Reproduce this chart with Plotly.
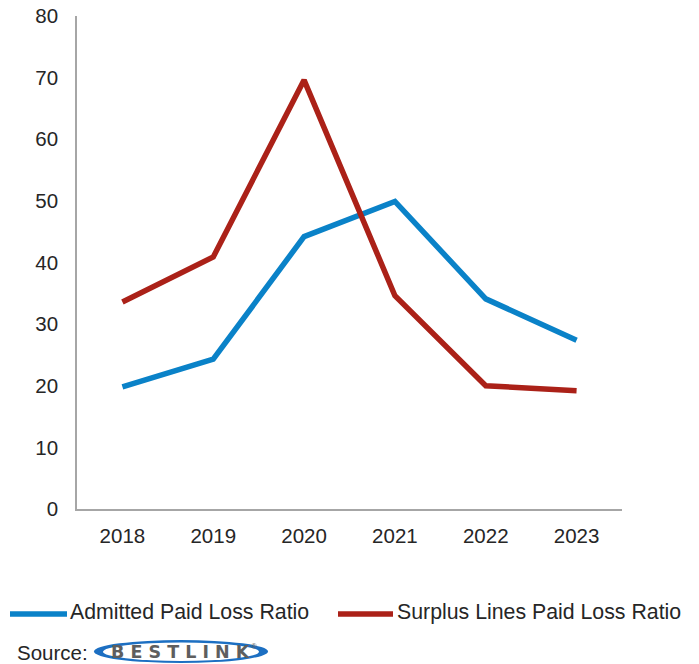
import plotly.graph_objects as go

years = ["2018", "2019", "2020", "2021", "2022", "2023"]
admitted = [19.8, 24.3, 44.2, 49.9, 34.1, 27.4]
surplus = [33.6, 40.9, 69.6, 34.6, 20.0, 19.2]
series_names = ["Admitted Paid Loss Ratio", "Surplus Lines Paid Loss Ratio"]
colors = ["#0a82c8", "#ab2118"]

FONT = "Liberation Sans, Arial, sans-serif"
TEXT_COLOR = "#262626"
AXIS_COLOR = "#a6a6a6"

# plot area in pixels (for placing paper-space decorations)
L, R, T, B = 77, 622, 16, 509
W, H = R - L, B - T


def px(x):
    return (x - L) / W


def py(y):
    return (B - y) / H


fig = go.Figure()
for name, vals, col in zip(series_names, [admitted, surplus], colors):
    fig.add_trace(go.Scatter(
        x=years, y=vals, name=name, mode="lines",
        line=dict(color=col, width=5.5),
        showlegend=False,
    ))

fig.update_layout(
    width=699, height=664,
    margin=dict(l=L, r=699 - R, t=T, b=664 - B),
    paper_bgcolor="white", plot_bgcolor="white",
    font=dict(family=FONT, size=20, color=TEXT_COLOR),
    xaxis=dict(
        type="category", range=[-0.5, 5.5], automargin=False,
        showgrid=False, zeroline=False,
        showline=True, linecolor=AXIS_COLOR, linewidth=1.5,
        ticks="outside", ticklen=8, tickcolor="rgba(0,0,0,0)",
        tickfont=dict(size=20.5, color=TEXT_COLOR),
    ),
    yaxis=dict(
        range=[0, 80], dtick=10, automargin=False,
        showgrid=False, zeroline=False,
        showline=True, linecolor=AXIS_COLOR, linewidth=1.5,
        ticks="outside", ticklen=13, tickcolor="rgba(0,0,0,0)",
        tickfont=dict(size=20.5, color=TEXT_COLOR),
    ),
)

# Legend: line swatches and labels below the plot
legend_items = [(10, 67, 68), (338, 393, 395)]
for (x0, x1, tx), name, col in zip(legend_items, series_names, colors):
    fig.add_shape(type="line", xref="paper", yref="paper",
                  x0=px(x0), x1=px(x1), y0=py(614), y1=py(614),
                  line=dict(color=col, width=5.5))
    fig.add_annotation(xref="paper", yref="paper",
                       x=px(tx), y=py(612),
                       text=name, showarrow=False, xanchor="left", yanchor="middle",
                       font=dict(size=21.3, color=TEXT_COLOR, family=FONT))

# Source line with the BESTLINK badge
fig.add_annotation(xref="paper", yref="paper",
                   x=px(15), y=py(652),
                   text="Source:", showarrow=False, xanchor="left", yanchor="middle",
                   font=dict(size=20.5, color=TEXT_COLOR, family=FONT))
fig.add_shape(type="circle", xref="paper", yref="paper",
              x0=px(94), x1=px(268), y0=py(663), y1=py(640),
              line=dict(width=0), fillcolor="#1c6fc2")
fig.add_shape(type="circle", xref="paper", yref="paper",
              x0=px(103), x1=px(259), y0=py(661), y1=py(642.5),
              line=dict(width=0), fillcolor="white")
fig.add_annotation(xref="paper", yref="paper",
                   x=px(181), y=py(652),
                   text="<b>B E S T L I N K</b>", showarrow=False,
                   xanchor="center", yanchor="middle",
                   font=dict(size=17.5, color="#5e5e5e", family="DejaVu Sans, sans-serif"))
fig.add_annotation(xref="paper", yref="paper",
                   x=px(254), y=py(646),
                   text="®", showarrow=False,
                   xanchor="center", yanchor="middle",
                   font=dict(size=8, color="#5e5e5e", family=FONT))

fig.write_html("out.html")
